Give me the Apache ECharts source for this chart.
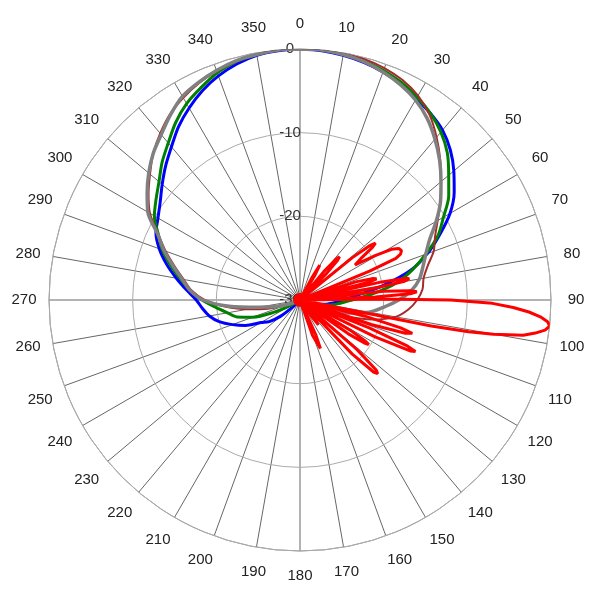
<!DOCTYPE html>
<html><head><meta charset="utf-8">
<script src="https://cdn.jsdelivr.net/npm/echarts@6/dist/echarts.min.js"></script>
<style>html,body{margin:0;padding:0;background:#fff}#c{width:600px;height:600px}</style>
</head><body><div id="c"></div>
<script>
const angles = [0,5,10,15,20,25,30,35,40,45,50,55,60,65,70,75,80,85,90,95,100,105,110,115,120,125,130,135,140,145,150,155,160,165,170,175,180,185,190,195,200,205,210,215,220,225,230,235,240,245,250,255,260,265,270,275,280,285,290,295,300,305,310,315,320,325,330,335,340,345,350,355,360];
const blueValues = [0,-0.1,-0.3,-0.6,-1.0,-1.5,-2.2,-2.8,-3.5,-4.6,-6.0,-7.5,-9.3,-11.6,-13.8,-16.3,-19.8,-23.0,-24.8,-26.0,-27.0,-28.0,-29.2,-30,
 -30,-30,-30,-30,-30,-30,-30,-30,-30,-30,-30,-30,-30,-30,-30,-30,-30,-30,-30,-30,-30,
 -29,-27,-25.5,-24.6,-22.8,-21.4,-20.0,-19.0,-18.3,-17.6,-16.4,-15.0,-13.5,-12.1,-11.0,-10.4,-9.6,-8.5,-7.3,-6.1,-4.7,-3.5,-2.4,-1.5,-0.8,-0.3,-0.1,0];
const greenValues = [0,0,-0.2,-0.4,-0.8,-1.3,-2.0,-2.8,-3.8,-5.1,-6.8,-8.3,-10.2,-11.8,-14.0,-16.1,-18.3,-21.2,-23.8,-25.3,-26.5,-27.7,-29.0,-30,
 -30,-30,-30,-30,-30,-30,-30,-30,-30,-30,-30,-30,-30,-30,-30,-30,-30,-30,-30,-30,-30,-30,-30,-30,
 -28.8,-26.5,-24.0,-22.2,-21.2,-19.9,-18.3,-16.8,-15.5,-14.0,-12.5,-11.3,-9.9,-9.0,-8.0,-6.7,-5.5,-4.1,-2.9,-2.0,-1.1,-0.5,-0.2,0,0];
const brownValues = [0,0,-0.1,-0.2,-0.5,-1.0,-1.8,-3.0,-4.6,-6.3,-8.0,-9.5,-11.0,-12.2,-13.0,-14.2,-15.0,-15.3,-16.0,-17.0,-18.4,-21.0,-24.5,-27.5,-29.5,
 -30,-30,-30,-30,-30,-30,-30,-30,-30,-30,-30,-30,-30,-30,-30,-30,-30,-30,-30,-30,-30,-30,-30,-30,
 -29.5,-28.0,-26.0,-23.6,-21.0,-18.6,-17.0,-15.9,-14.5,-12.9,-11.3,-9.3,-7.9,-6.6,-5.2,-4.0,-2.9,-2.1,-1.4,-0.9,-0.5,-0.2,0,0];
const grayValues = [0,0,-0.2,-0.5,-1.0,-1.6,-2.4,-3.5,-4.9,-6.4,-8.0,-9.5,-11.2,-12.9,-14.0,-14.8,-15.5,-16.6,-18.2,-20.0,-21.6,-24.0,-27.3,-29.5,
 -30,-30,-30,-30,-30,-30,-30,-30,-30,-30,-30,-30,-30,-30,-30,-30,-30,-30,-30,-30,-30,-30,-30,-30,-30,
 -29.5,-28.5,-27.0,-25.0,-21.5,-18.4,-16.8,-15.7,-14.3,-12.7,-11.2,-9.0,-7.7,-6.4,-5.2,-4.2,-3.0,-1.9,-1.3,-0.8,-0.4,-0.2,0,0];
const redAngles = [0,12,22,26,28,29.5,31,33,38,40,41.5,42.5,43.5,45,47.5,49.5,51,52,53,54,55.5,57.5,59.5,61,62.5,64,65.5,66.5,67.5,68.5,70.5,72,73.5,74.5,75.5,76.5,77.5,78.5,79,79.8,81,82,82.5,84,85.2,86,86.8,87.8,88.5,88.8,89.3,90,91,92,93,94,95,96,97,98,99,100,100.7,101.2,101.8,102.5,104,105.5,106.5,107.5,109,110.3,110.8,112,113.2,114,114.8,116.2,117.5,119,121,122.3,123,123.8,125,127,129,131,132.6,133.5,134.4,136,137.5,140,142,143.5,145,147,153,155.5,157.2,158,158.8,160.5,163,168,176,184,192,200,208,216,224,232,240,248,256,264,272,280,288,296,304,312,320,328,336,344,352,360];
const redValues = [-29.2,-29.3,-29.6,-30,-27,-25.2,-26.5,-30,-30,-25.5,-23.5,-23,-23.5,-25.5,-30,-30,-22,-19.5,-18.7,-19.3,-21,-22.2,-19.5,-17.5,-16.7,-16.5,-16.8,-17.5,-21,-30,-30,-23,-21,-20.5,-21.5,-30,-20,-17,-16.7,-17.3,-21,-30,-30,-20,-16.8,-16,-16.8,-21,-30,-30,-20,-12,-7,-4.5,-2.6,-1.2,-0.3,0,-0.5,-1.6,-3,-6.5,-9.5,-14,-30,-30,-22,-17.5,-16,-16.8,-21,-30,-30,-21,-16,-14.9,-15.5,-20,-30,-30,-23,-20.7,-20.2,-20.8,-23,-30,-30,-21,-17.6,-17.2,-17.7,-21,-30,-30,-27,-26.3,-27.5,-30,-30,-25.5,-23.7,-23.5,-23.8,-25.5,-30,-29.3,-29.8,-29.2,-29.8,-29.2,-29.8,-29.2,-29.8,-29.2,-29.8,-29.2,-29.8,-29.2,-29.8,-29.2,-29.8,-29.2,-29.8,-29.2,-29.8,-29.2,-29.8,-29.2,-29.8,-29.2];

function pairs(vals, angs){ return vals.map(function(v,i){ return [v, angs[i]]; }); }
const font = 'Liberation Sans, Arial, sans-serif';
const chart = echarts.init(document.getElementById('c'));
function lineSeries(name, vals, angs, color, width, smooth){
  return {name:name, type:'line', coordinateSystem:'polar', data:pairs(vals, angs), showSymbol:false, symbol:'none',
    smooth:smooth, lineStyle:{color:color, width:width}, itemStyle:{color:color}};
}
chart.setOption({
  animation:false,
  polar:{center:['50%','50%'], radius:251},
  angleAxis:{type:'value', min:0, max:360, interval:10, startAngle:90, clockwise:true,
    axisLine:{lineStyle:{color:'#999', width:1}}, axisTick:{show:false},
    axisLabel:{margin:17, color:'#222', fontSize:15, fontFamily:font,
      formatter:function(v){ return v===360 ? '' : '{a|' + v + '}'; },
      rich:{a:{width:16, height:16, lineHeight:16, align:'center', verticalAlign:'middle', fontSize:15, fontFamily:font, color:'#222'}}},
    splitLine:{show:true, lineStyle:{color:'#666', width:1}}},
  radiusAxis:{type:'value', min:-30, max:0, interval:10, axisLine:{show:false}, axisTick:{show:false},
    axisLabel:{show:true, margin:10, align:'center', verticalAlign:'middle', color:'#333', fontSize:15, fontFamily:font},
    splitLine:{show:true, lineStyle:{color:'#aaa', width:1}}, z:1},
  series:[
    lineSeries('blue', blueValues, angles, '#0000ff', 3, 0.3),
    lineSeries('green', greenValues, angles, '#008000', 3, 0.3),
    lineSeries('brown', brownValues, angles, '#a52a2a', 2, 0.3),
    lineSeries('gray', grayValues, angles, '#808080', 3.5, 0.3),
    lineSeries('red', redValues, redAngles, '#ff0000', 3, false)
  ]
});
</script></body></html>
